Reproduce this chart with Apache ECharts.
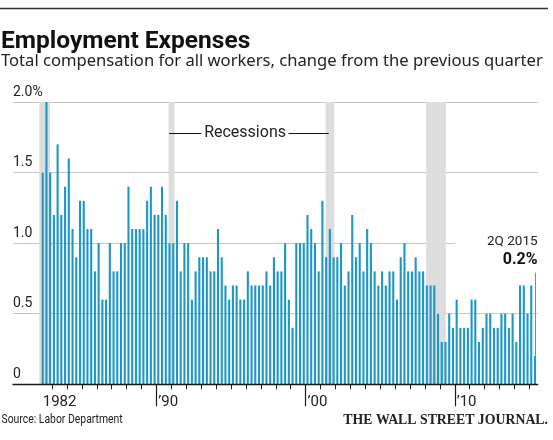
<!DOCTYPE html>
<html><head><meta charset="utf-8">
<script src="https://cdn.jsdelivr.net/npm/echarts@6/dist/echarts.min.js"></script>
<style>html,body{margin:0;padding:0;background:#fff}#c{width:553px;height:440px}</style>
</head><body><div id="c"></div>
<script>
// ---- data ----
const startYear = 1982;
const startQuarter = 2;
const values = [
  1.5, 2.0, 1.5, 1.2, 1.7, 1.2, 1.4, 1.6, 1.1, 0.9, 1.3, 1.3, 1.1, 1.1, 0.8, 1.0,
  0.6, 0.6, 1.0, 0.8, 0.8, 1.0, 1.0, 1.4, 1.1, 1.1, 1.1, 1.1, 1.3, 1.4, 1.2, 1.2,
  1.4, 1.2, 1.0, 1.0, 1.3, 0.8, 1.0, 1.0, 0.6, 0.8, 0.9, 0.9, 0.9, 0.8, 0.8, 1.1,
  0.9, 0.7, 0.6, 0.7, 0.7, 0.6, 0.6, 0.8, 0.7, 0.7, 0.7, 0.7, 0.8, 0.7, 0.9, 0.8,
  0.8, 1.0, 0.6, 0.4, 1.0, 1.0, 1.0, 1.2, 1.1, 1.0, 0.8, 1.3, 0.9, 1.1, 0.9, 0.9,
  1.0, 0.7, 0.8, 1.2, 0.9, 1.0, 0.8, 1.1, 1.0, 0.8, 0.7, 0.8, 0.7, 0.8, 0.8, 0.6,
  0.9, 1.0, 0.8, 0.8, 0.9, 0.8, 0.8, 0.7, 0.7, 0.7, 0.5, 0.3, 0.3, 0.5, 0.4, 0.6,
  0.4, 0.4, 0.4, 0.6, 0.6, 0.3, 0.4, 0.5, 0.5, 0.4, 0.4, 0.5, 0.5, 0.4, 0.5, 0.3,
  0.7, 0.7, 0.5, 0.7, 0.2
];
const yTickValues = [0, 0.5, 1, 1.5, 2];
const yTickLabels = ['0', '0.5', '1.0', '1.5', '2.0%'];
const xLabelYears = [1982, 1990, 2000, 2010];
const xLabelTexts = ['1982', '\u201990', '\u201900', '\u201910'];
const majorTickYears = [1990, 2000, 2010];
const minorTickYears = [1983, 1984, 1985, 1986, 1987, 1988, 1989,
  1991, 1992, 1993, 1994, 1995, 1996, 1997, 1998, 1999,
  2001, 2002, 2003, 2004, 2005, 2006, 2007, 2008, 2009,
  2011, 2012, 2013, 2014, 2015];
const recessions = [[1982.15, 1982.87], [1990.81, 1991.21], [2001.34, 2001.92], [2008.08, 2009.40]];
const latestLabel = '2Q 2015';
const latestValueText = '0.2%';

// ---- build ----
const X_MIN = 1980.384, X_MAX = 2015.55;
const quarterX = values.map((v, i) => {
  const k = startQuarter - 1 + i;
  const yr = startYear + Math.floor(k / 4);
  const q = k % 4;
  return yr + q * 0.25 + 0.125;
});
const barData = values.map((v, i) => [quarterX[i], v]);
const labelPos = xLabelYears.map(y => quarterX.find(x => x > y && x < y + 1));
const font = 'Roboto, "Noto Sans", sans-serif';
const lastIdx = values.length - 1;

const gridLines = yTickValues.filter(v => v > 0).map(v => [
  { coord: [X_MIN, v] },
  { coord: [v === 1 ? 2010 : X_MAX, v] }
]);

const chart = echarts.init(document.getElementById('c'), null, { renderer: 'canvas' });
chart.setOption({
  animation: false,
  backgroundColor: '#fff',
  grid: { left: 13, right: 15.4, top: 102, bottom: 55.7, containLabel: false },
  xAxis: [{
    type: 'value', min: X_MIN, max: X_MAX, position: 'bottom', z: 10,
    axisLine: { show: true, lineStyle: { color: '#1a1a1a', width: 1.4 } },
    axisTick: { show: true, customValues: minorTickYears, length: 5, lineStyle: { color: '#1a1a1a', width: 1 } },
    axisLabel: {
      show: true, customValues: labelPos, align: 'left', margin: 10,
      fontFamily: font, fontSize: 15, color: '#222',
      formatter: v => { const i = labelPos.findIndex(p => Math.abs(p - v) < 1e-6); return i >= 0 ? xLabelTexts[i] : ''; }
    },
    splitLine: { show: false }
  }, {
    type: 'value', min: X_MIN, max: X_MAX, position: 'bottom', z: 10,
    axisLine: { show: false },
    axisTick: { show: true, customValues: majorTickYears, length: 22, lineStyle: { color: '#1a1a1a', width: 1.2 } },
    axisLabel: { show: false },
    splitLine: { show: false }
  }],
  yAxis: {
    type: 'value', min: 0, max: 2, interval: 0.5,
    axisLine: { show: false }, axisTick: { show: false }, splitLine: { show: false },
    axisLabel: {
      inside: true, margin: 0, align: 'left', verticalAlign: 'bottom', padding: [0, 0, 3, 0],
      fontFamily: font, fontSize: 14, color: '#222',
      formatter: v => { const i = yTickValues.indexOf(v); return i >= 0 ? yTickLabels[i] : ''; }
    }
  },
  series: [{
    type: 'line', data: [[X_MIN, 0]], showSymbol: false, lineStyle: { width: 0 }, silent: true, z: 1,
    markLine: {
      silent: true, z: 0.5, symbol: ['none', 'none'], label: { show: false },
      lineStyle: { color: '#c6c6c6', width: 1, type: 'solid' },
      data: gridLines
    },
    markArea: {
      silent: true, z: 1, itemStyle: { color: '#dddddd' },
      data: recessions.map(r => [{ xAxis: r[0] }, { xAxis: r[1] }])
    }
  }, {
    type: 'bar', data: barData, barWidth: 2.1, z: 2, silent: true,
    itemStyle: { color: '#1c97c6' },
    markLine: {
      silent: true, z: 5, symbol: ['none', 'none'], label: { show: false },
      lineStyle: { color: '#111', width: 1, type: 'solid' },
      data: [
        [{ coord: [quarterX[lastIdx], values[lastIdx]], lineStyle: { color: '#888', width: 1 } }, { coord: [quarterX[lastIdx], 0.79] }],
        [{ coord: [1990.86, 1.778] }, { coord: [1993.01, 1.778] }],
        [{ coord: [1998.86, 1.778] }, { coord: [2001.55, 1.778] }]
      ]
    },
    markPoint: {
      silent: true, z: 6, symbol: 'circle', symbolSize: 0,
      itemStyle: { color: 'rgba(0,0,0,0)' },
      data: [
        { coord: [1995.94, 1.778], label: { show: true, position: 'inside', formatter: 'Recessions', fontFamily: font, fontSize: 16, color: '#222', align: 'center', verticalAlign: 'middle' } },
        { coord: [X_MAX, 1.008], label: { show: true, position: 'inside', formatter: latestLabel, fontFamily: font, fontSize: 13.5, color: '#222', align: 'right', verticalAlign: 'middle' } },
        { coord: [X_MAX, 0.88], label: { show: true, position: 'inside', formatter: latestValueText, fontFamily: font, fontSize: 16, fontWeight: 'bold', color: '#111', align: 'right', verticalAlign: 'middle' } }
      ]
    }
  }],
  graphic: [
    { type: 'line', silent: true, shape: { x1: 0, y1: 8.5, x2: 548, y2: 8.5 }, style: { stroke: '#333', lineWidth: 1.5 } },
    { type: 'text', silent: true, x: 1, y: 42, style: { text: 'Employment Expenses', font: 'bold 24.5px ' + font, fill: '#111', align: 'left', verticalAlign: 'middle' } },
    { type: 'text', silent: true, x: 1, y: 61, style: { text: 'Total compensation for all workers, change from the previous quarter', font: '16.6px "Noto Sans", Roboto, sans-serif', fill: '#222', align: 'left', verticalAlign: 'middle' } },
    { type: 'text', silent: true, x: 1.5, y: 420, scaleX: 0.8, style: { text: 'Source: Labor Department', font: '13px ' + font, fill: '#222', align: 'left', verticalAlign: 'middle' } },
    { type: 'text', silent: true, x: 548, y: 420, style: { text: 'THE WALL STREET JOURNAL.', font: 'bold 13.8px "Liberation Serif", serif', fill: '#222', align: 'right', verticalAlign: 'middle' } }
  ]
});
</script>
</body></html>
